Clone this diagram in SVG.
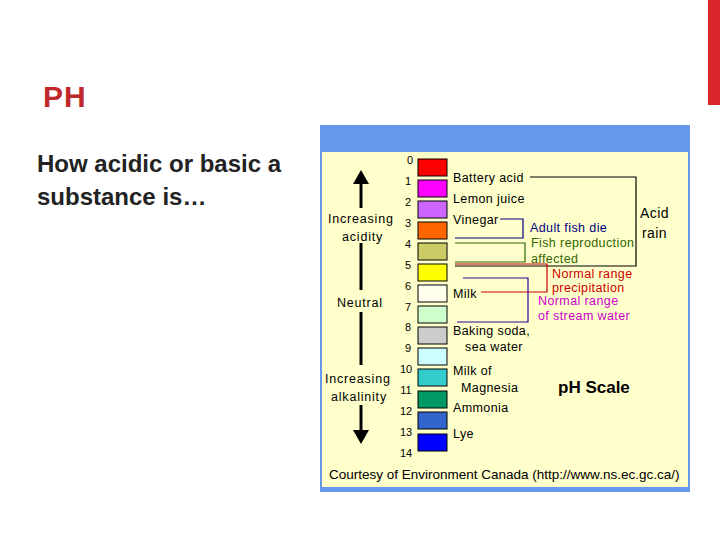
<svg xmlns="http://www.w3.org/2000/svg" width="720" height="540" viewBox="0 0 720 540">
<style>
.t{font-family:"Liberation Sans",Arial,sans-serif;font-size:12.5px;fill:#000;letter-spacing:0.4px}
.n{font-family:"Liberation Sans",Arial,sans-serif;font-size:11px;fill:#000}
.sw{stroke:#000;stroke-width:1}
.br{fill:none;stroke-width:1.2}
</style>
<defs><marker id="ah" markerWidth="14" markerHeight="16" refX="2" refY="8" orient="auto" markerUnits="userSpaceOnUse"><path d="M0,0 L14,8 L0,16 z" fill="#000"/></marker></defs>
<rect width="720" height="540" fill="#fff"/>
<rect x="708" y="0" width="12" height="105" fill="#d9262a"/>
<text x="43" y="107" font-family="Liberation Sans,Arial,sans-serif" font-size="30" font-weight="bold" fill="#c0282b" letter-spacing="1">PH</text>
<text font-family="Liberation Sans,Arial,sans-serif" font-size="24" font-weight="bold" fill="#222"><tspan x="37" y="172">How acidic or basic a</tspan><tspan x="37" y="205">substance is…</tspan></text>
<g id="figure">
<rect x="320" y="125" width="370" height="367" fill="#6699ee"/>
<rect x="322" y="152" width="366" height="335" fill="#ffffcc"/>
</g>
<g id="scale">
<rect class="sw" x="418" y="159" width="29" height="17" fill="#ff0000"/>
<rect class="sw" x="418" y="180" width="29" height="17" fill="#ff00ff"/>
<rect class="sw" x="418" y="201" width="29" height="17" fill="#cc66ff"/>
<rect class="sw" x="418" y="222" width="29" height="17" fill="#ff6600"/>
<rect class="sw" x="418" y="243" width="29" height="17" fill="#cccc66"/>
<rect class="sw" x="418" y="264" width="29" height="17" fill="#ffff00"/>
<rect class="sw" x="418" y="285" width="29" height="17" fill="#ffffee"/>
<rect class="sw" x="418" y="306" width="29" height="17" fill="#ccffcc"/>
<rect class="sw" x="418" y="327" width="29" height="17" fill="#cccccc"/>
<rect class="sw" x="418" y="348" width="29" height="17" fill="#ccffff"/>
<rect class="sw" x="418" y="369" width="29" height="17" fill="#33cccc"/>
<rect class="sw" x="418" y="391" width="29" height="17" fill="#009966"/>
<rect class="sw" x="418" y="412" width="29" height="17" fill="#3366cc"/>
<rect class="sw" x="418" y="434" width="29" height="17" fill="#0000ff"/>
<g class="n" text-anchor="middle">
<text x="410" y="164">0</text><text x="408" y="185">1</text><text x="408" y="206">2</text><text x="408" y="227">3</text><text x="408" y="248">4</text><text x="408" y="269">5</text><text x="408" y="290">6</text><text x="408" y="311">7</text><text x="408" y="331">8</text><text x="408" y="352">9</text><text x="406" y="373">10</text><text x="406" y="394">11</text><text x="406" y="415">12</text><text x="406" y="436">13</text><text x="406" y="457">14</text>
</g>
</g>
<g id="labels" class="t">
<text x="453" y="182">Battery acid</text>
<text x="453" y="203">Lemon juice</text>
<text x="453" y="224">Vinegar</text>
<text x="453" y="298">Milk</text>
<text x="453" y="335">Baking soda,</text>
<text x="465" y="351">sea water</text>
<text x="453" y="375">Milk of</text>
<text x="461" y="392">Magnesia</text>
<text x="453" y="412">Ammonia</text>
<text x="453" y="438">Lye</text>
<text x="328" y="223" letter-spacing="0.8">Increasing</text>
<text x="342" y="241" letter-spacing="0.8">acidity</text>
<text x="337" y="307" letter-spacing="0.8">Neutral</text>
<text x="325" y="383" letter-spacing="0.8">Increasing</text>
<text x="331" y="401" letter-spacing="0.8">alkalinity</text>
<text x="640" y="218" font-size="14">Acid</text>
<text x="642" y="238" font-size="14">rain</text>
<text x="530" y="232" fill="#000080">Adult fish die</text>
<text x="531" y="247" fill="#336600">Fish reproduction</text>
<text x="531" y="263" fill="#336600">affected</text>
<text x="552" y="278" fill="#cc0000">Normal range</text>
<text x="552" y="292" fill="#cc0000">precipitation</text>
<text x="538" y="305" fill="#cc00cc">Normal range</text>
<text x="538" y="320" fill="#cc00cc">of stream water</text>
<text x="558" y="393" font-size="17" font-weight="bold" letter-spacing="0">pH Scale</text>
<text x="329" y="479" font-size="13.5" letter-spacing="0">Courtesy of Environment Canada (http://www.ns.ec.gc.ca/)</text>
</g>
<g id="connectors">
<line x1="361" y1="208" x2="361" y2="182" stroke="#000" stroke-width="3" marker-end="url(#ah)"/>
<line x1="361" y1="243" x2="361" y2="290" stroke="#000" stroke-width="3"/>
<line x1="361" y1="312" x2="361" y2="365" stroke="#000" stroke-width="3"/>
<line x1="361" y1="405" x2="361" y2="432" stroke="#000" stroke-width="3" marker-end="url(#ah)"/>
<polyline class="br" stroke="#000" points="530,177 636,177 636,266 455,266"/>
<polyline class="br" stroke="#000080" points="500,219 523,219 523,238 455,238"/>
<polyline class="br" stroke="#336600" points="455,243 525,243 525,262 455,262"/>
<polyline class="br" stroke="#cc0000" points="455,264 547,264 547,292 481,292"/>
<polyline class="br" stroke="#330099" points="463,278 528,278 528,322 457,322"/>
</g>
</svg>
